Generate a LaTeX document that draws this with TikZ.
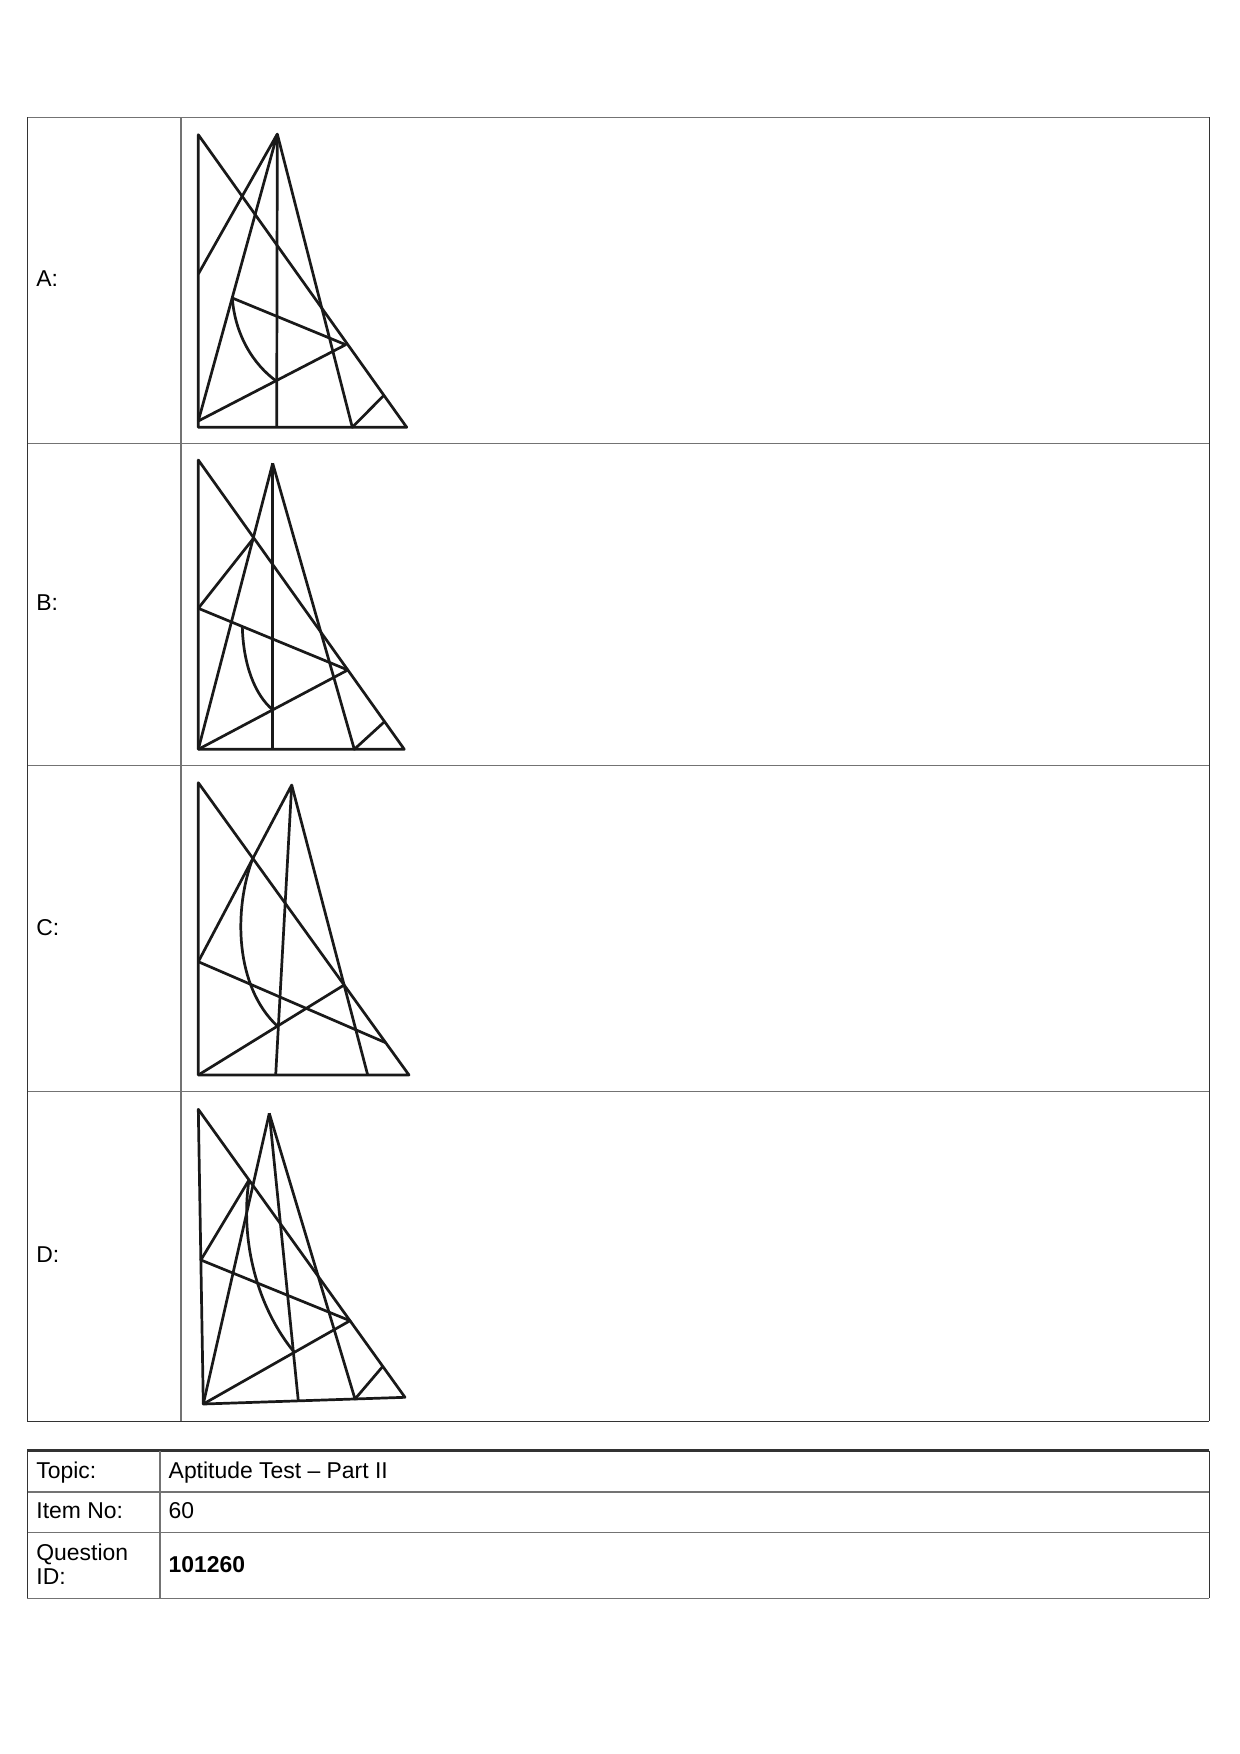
\documentclass[tikz,border=0pt]{standalone}
\usepackage{fontspec}
\setmainfont{Liberation Sans}
\usetikzlibrary{positioning}
\tikzset{fig/.style={line width=1.3pt,black!90,line join=round},
  outer/.style={line width=0.6pt,black!80},
  inner/.style={line width=0.6pt,black!55},
  lab/.style={anchor=base west,inner sep=0pt,font=\fontsize{11}{13}\selectfont}}

\begin{document}
\begin{tikzpicture}[x=0.48pt,y=-0.48pt]
\useasboundingbox (0,0) rectangle (1240,1754);

% upper table
\draw[inner] (27.3,117.3)--(1209.3,117.3);
\draw[inner] (27.3,443.3)--(1209.3,443.3);
\draw[inner] (27.3,765.3)--(1209.3,765.3);
\draw[inner] (27.3,1091.7)--(1209.3,1091.7);
\draw[inner] (181,117.3)--(181,1421.3);
\draw[outer] (27.3,1421.3)--(1209.3,1421.3);
\draw[outer] (27.3,117.3)--(27.3,1421.3);
\draw[outer] (1209.3,117.3)--(1209.3,1421.3);

\node[lab] (labA) at (36,286) {A:};
\node[lab] (labB) at (36,610.7) {B:};
\node[lab] (labC) at (36,935) {C:};
\node[lab] (labD) at (36,1262.7) {D:};

% figure A
\coordinate (aL) at (198.3,134.7);
\coordinate (aT) at (277.3,134);
\coordinate (aBL) at (198.3,427.3);
\coordinate (aBR) at (406.7,427.3);
\coordinate (aM) at (198.3,274);
\coordinate (aE) at (198.3,421);
\coordinate (aV) at (276.7,427.3);
\coordinate (aR) at (352.3,427.3);
\coordinate (aQ) at (232.3,298);
\coordinate (aP) at (345.7,344.7);
\coordinate (aK) at (276.7,381.3);
\coordinate (aS) at (383.9,395.3);

\draw[fig] (aL)--(aBL)--(aBR)--cycle;
\draw[fig] (aM)--(aT)--(aE);
\draw[fig] (aT)--(aV);
\draw[fig] (aT)--(aR)--(aS);
\draw[fig] (aQ)--(aP)--(aE);
\draw[fig] (aQ) .. controls (235,334.7) and (253.3,364.7) .. (aK);

% figure B
\coordinate (bL) at (198.3,460);
\coordinate (bT) at (272.7,463.3);
\coordinate (bBL) at (198.3,749.3);
\coordinate (bBR) at (404.3,749.3);
\coordinate (bV) at (272.7,749.3);
\coordinate (bR) at (354.3,749.3);
\coordinate (bM) at (198.3,608.3);
\coordinate (bX) at (253.5,538.3);
\coordinate (bP) at (347.8,670);
\coordinate (bQ) at (242.3,626.5);
\coordinate (bK) at (272.7,709.8);
\coordinate (bS) at (384.5,721.7);

\draw[fig] (bL)--(bBL)--(bBR)--cycle;
\draw[fig] (bT)--(bBL);
\draw[fig] (bT)--(bV);
\draw[fig] (bT)--(bR)--(bS);
\draw[fig] (bX)--(bM)--(bP)--(bBL);
\draw[fig] (bQ) .. controls (243.3,665) and (255,695) .. (bK);

% figure C
\coordinate (cL) at (198.3,782.7);
\coordinate (cT) at (291.7,785);
\coordinate (cBL) at (198.3,1075);
\coordinate (cBR) at (409,1075);
\coordinate (cM) at (198.3,961.7);
\coordinate (cV) at (275.7,1075);
\coordinate (cR) at (367.7,1075);
\coordinate (cS) at (385.7,1042.7);
\coordinate (cP) at (344.1,985);
\coordinate (cX) at (252.8,858.3);
\coordinate (cK) at (277.5,1026.2);

\draw[fig] (cL)--(cBL)--(cBR)--cycle;
\draw[fig] (cM)--(cT)--(cV);
\draw[fig] (cT)--(cR);
\draw[fig] (cM)--(cS);
\draw[fig] (cBL)--(cP);
\draw[fig] (cX) .. controls (233.3,910) and (235,986.7) .. (cK);

% figure D
\coordinate (dL) at (198.3,1109.3);
\coordinate (dT) at (269.3,1113.3);
\coordinate (dBL) at (203.3,1404);
\coordinate (dBR) at (405,1397.3);
\coordinate (dM) at (200.9,1260);
\coordinate (dX) at (249,1180);
\coordinate (dV) at (298.3,1400.8);
\coordinate (dR) at (355,1399);
\coordinate (dP) at (350,1320.7);
\coordinate (dK) at (294.3,1352.3);
\coordinate (dS) at (382.5,1366.7);

\draw[fig] (dL)--(dBL)--(dBR)--cycle;
\draw[fig] (dT)--(dBL);
\draw[fig] (dT)--(dV);
\draw[fig] (dT)--(dR)--(dS);
\draw[fig] (dX)--(dM)--(dP)--(dBL);
\draw[fig] (dX) .. controls (240,1240) and (256.7,1306.7) .. (dK);

% lower table
\draw[outer,line width=1.2pt] (27.3,1450.7)--(1209.3,1450.7);
\draw[inner,line width=0.9pt] (27.3,1491.7)--(1209.3,1491.7);
\draw[inner] (27.3,1532.3)--(1209.3,1532.3);
\draw[inner] (27.3,1598.3)--(1209.3,1598.3);
\draw[inner] (160,1450.7)--(160,1598.3);
\draw[outer] (27.3,1450.7)--(27.3,1598.3);
\draw[outer] (1209.3,1450.7)--(1209.3,1598.3);

\node[lab] (topic) at (36,1478) {Topic:};
\node[lab] (topicv) at (168.3,1478) {Aptitude Test – Part II};
\node[lab] (item) at (36,1518.3) {Item No:};
\node[lab] (itemv) at (168.3,1518.3) {60};
\node[lab] (quest) at (36,1560) {Question};
\node[lab] (questid) at (36,1584) {ID:};
\node[lab,font=\fontsize{11}{13}\selectfont\bfseries] (questv) at (168.3,1572.3) {101260};
\end{tikzpicture}
\end{document}
